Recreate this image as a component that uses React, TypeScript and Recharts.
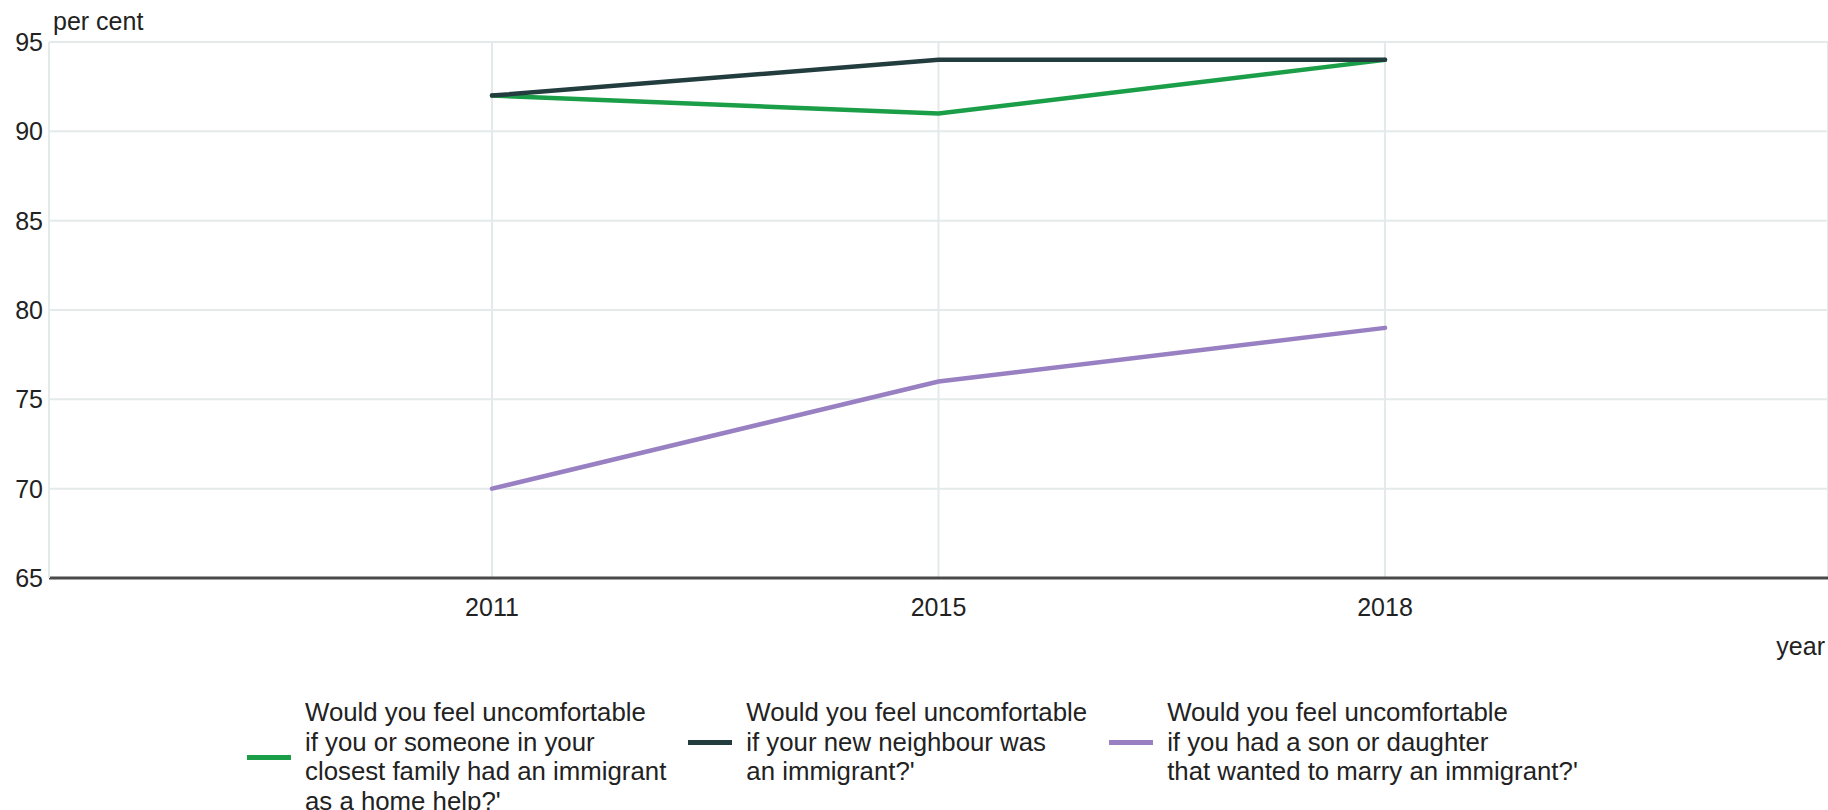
import React from 'react';
import {
  LineChart,
  Line,
  XAxis,
  YAxis,
  CartesianGrid,
  Legend,
  Label,
} from 'recharts';

// ---------------------------------------------------------------------------
// Data
// ---------------------------------------------------------------------------

const YEARS = ['2011', '2015', '2018'];

const HOME_HELP = [92, 91, 94];
const NEIGHBOUR = [92, 94, 94];
const MARRY = [70, 76, 79];

const Y_TICKS = [65, 70, 75, 80, 85, 90, 95];

const SERIES = [
  {
    key: 'homeHelp',
    values: HOME_HELP,
    color: '#1b9e48',
    lines: [
      'Would you feel uncomfortable',
      'if you or someone in your',
      'closest family had an immigrant',
      "as a home help?'",
    ],
  },
  {
    key: 'neighbour',
    values: NEIGHBOUR,
    color: '#233d3f',
    lines: [
      'Would you feel uncomfortable',
      'if your new neighbour was',
      "an immigrant?'",
    ],
  },
  {
    key: 'marry',
    values: MARRY,
    color: '#9880c2',
    lines: [
      'Would you feel uncomfortable',
      'if you had a son or daughter',
      "that wanted to marry an immigrant?'",
    ],
  },
];

const FONT = '"Liberation Sans", Arial, sans-serif';
const TEXT = '#222';
const GRID = '#e4eaea';

const data = YEARS.map((year, i) => {
  const row: Record<string, string | number> = { year };
  SERIES.forEach((s) => {
    row[s.key] = s.values[i];
  });
  return row;
});

// ---------------------------------------------------------------------------
// Legend
// ---------------------------------------------------------------------------

const LegendContent = () => (
  <div
    style={{
      height: 112,
      display: 'flex',
      alignItems: 'flex-start',
      paddingLeft: 247,
      fontFamily: FONT,
      fontSize: 25.8,
      lineHeight: '29.5px',
      color: TEXT,
      boxSizing: 'border-box',
    }}
  >
    {SERIES.map((s) => (
      <div
        key={s.key}
        style={{ display: 'flex', alignItems: 'center', marginRight: 22 }}
      >
        <div
          style={{
            width: 44,
            height: 5,
            background: s.color,
            marginRight: 14,
            flexShrink: 0,
          }}
        />
        <div style={{ whiteSpace: 'nowrap', textAlign: 'left' }}>
          {s.lines.map((l) => (
            <div key={l}>{l}</div>
          ))}
        </div>
      </div>
    ))}
  </div>
);

// ---------------------------------------------------------------------------
// Component
// ---------------------------------------------------------------------------

export default function App() {
  return (
    <div
      style={{
        position: 'absolute',
        left: 0,
        top: 0,
        width: 1828,
        height: 810,
        overflow: 'hidden',
        background: '#fff',
      }}
    >
      <LineChart
        width={1828}
        height={810}
        data={data}
        margin={{ top: 42, right: 0, left: 0, bottom: 0 }}
      >
        <CartesianGrid stroke={GRID} strokeWidth={2} />
        <XAxis
          dataKey="year"
          height={120}
          padding={{ left: 443, right: 443 }}
          tickLine={false}
          tickSize={0}
          tickMargin={20}
          axisLine={{ stroke: '#4a4a4a', strokeWidth: 3 }}
          tick={{ fontSize: 25, fill: TEXT, fontFamily: FONT }}
        >
          <Label
            content={({ viewBox }: any) => (
              <text
                x={viewBox.x + viewBox.width - 3}
                y={viewBox.y + 77}
                textAnchor="end"
                fontSize={25}
                fontFamily={FONT}
                fill={TEXT}
              >
                year
              </text>
            )}
          />
        </XAxis>
        <YAxis
          domain={[65, 95]}
          ticks={Y_TICKS}
          width={49}
          tickLine={false}
          tickSize={0}
          tickMargin={6}
          axisLine={{ stroke: GRID, strokeWidth: 2 }}
          tick={{ fontSize: 25, fill: TEXT, fontFamily: FONT }}
        >
          <Label
            content={({ viewBox }: any) => (
              <text
                x={viewBox.x + viewBox.width + 4}
                y={viewBox.y - 12}
                textAnchor="start"
                fontSize={25}
                fontFamily={FONT}
                fill={TEXT}
              >
                per cent
              </text>
            )}
          />
        </YAxis>
        <Legend verticalAlign="bottom" content={<LegendContent />} />
        {SERIES.map((s) => (
          <Line
            key={s.key}
            dataKey={s.key}
            type="linear"
            stroke={s.color}
            strokeWidth={4.5}
            strokeLinecap="round"
            dot={false}
            activeDot={false}
            isAnimationActive={false}
          />
        ))}
      </LineChart>
    </div>
  );
}
